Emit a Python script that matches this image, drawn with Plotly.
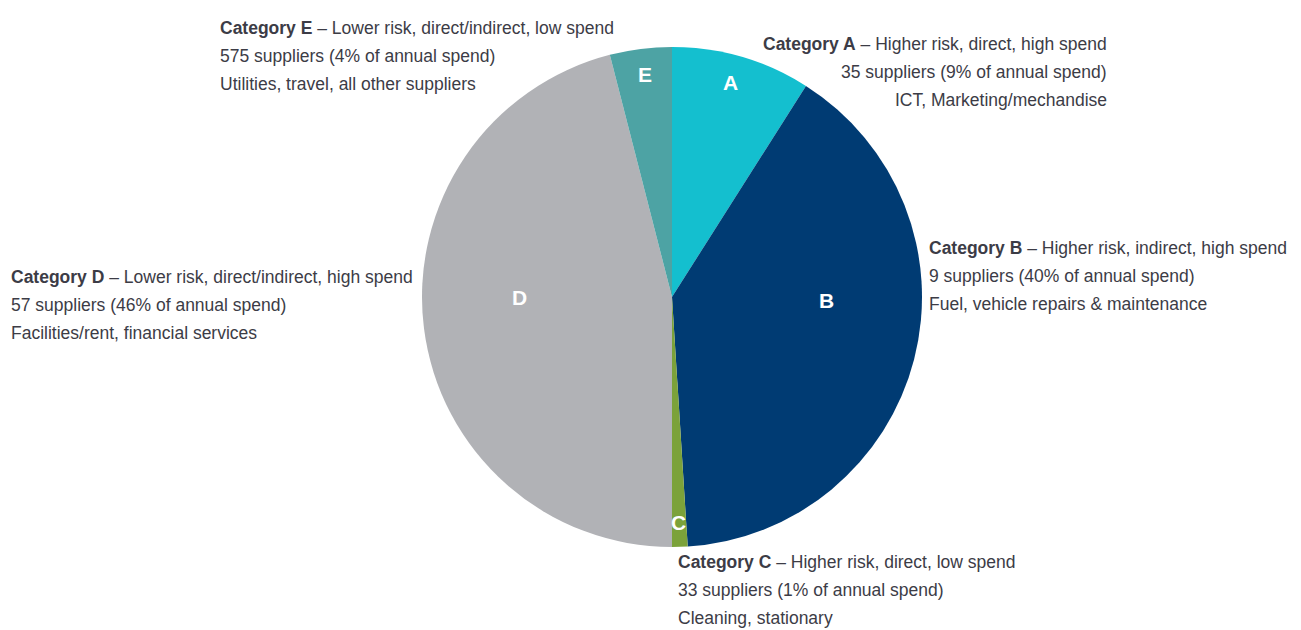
import plotly.graph_objects as go

categories = ["A", "B", "C", "D", "E"]
spend_share = [9, 40, 1, 46, 4]
suppliers = [35, 9, 33, 57, 575]
descriptions = [
    "Higher risk, direct, high spend",
    "Higher risk, indirect, high spend",
    "Higher risk, direct, low spend",
    "Lower risk, direct/indirect, high spend",
    "Lower risk, direct/indirect, low spend",
]
examples = [
    "ICT, Marketing/mechandise",
    "Fuel, vehicle repairs &amp; maintenance",
    "Cleaning, stationary",
    "Facilities/rent, financial services",
    "Utilities, travel, all other suppliers",
]
colors = ["#14BFCF", "#003B73", "#7BA23A", "#B1B2B6", "#4DA3A4"]

# page body has an 8px margin; figure is sized to fit the window
OFF = 8
W, H = 1301 - OFF, 630 - OFF
cx, cy, R = 672, 297, 250


def px(x):
    return (x - OFF) / W


def py(y):
    return 1 - (y - OFF) / H


fig = go.Figure(
    go.Pie(
        labels=categories,
        values=spend_share,
        sort=False,
        direction="clockwise",
        rotation=0,
        marker=dict(colors=colors, line=dict(width=0)),
        textinfo="none",
        hoverinfo="label+percent",
        showlegend=False,
        domain=dict(x=[px(cx - R), px(cx + R)], y=[py(cy + R), py(cy - R)]),
    )
)

font_family = "Liberation Sans Narrow, Arial Narrow, Liberation Sans, Arial, sans-serif"
annotations = []

# slice letters
letter_pos = {"A": (730, 82), "B": (826, 300), "C": (678, 522), "D": (519, 297), "E": (645, 74)}
for c in categories:
    x, y = letter_pos[c]
    annotations.append(dict(
        x=px(x), y=py(y), xref="paper", yref="paper", text="<b>%s</b>" % c,
        showarrow=False, xanchor="center", yanchor="middle",
        font=dict(family="Liberation Sans, Arial, sans-serif", size=21, color="white"),
    ))

# callout blocks: (x, first line y, anchor)
block_pos = {
    "A": (1108, 44, "right"),
    "B": (928, 248, "left"),
    "C": (677, 562, "left"),
    "D": (10, 277, "left"),
    "E": (219, 28, "left"),
}
line_gap = 28
for i, c in enumerate(categories):
    x, y0, anchor = block_pos[c]
    lines = [
        "<b>Category %s</b> – %s" % (c, descriptions[i]),
        "%d suppliers (%d%% of annual spend)" % (suppliers[i], spend_share[i]),
        examples[i],
    ]
    for k, t in enumerate(lines):
        annotations.append(dict(
            x=px(x), y=py(y0 + k * line_gap), xref="paper", yref="paper", text=t,
            showarrow=False, xanchor=anchor, yanchor="middle", align=anchor,
            xshift=-1 if anchor == "left" else 1,
            font=dict(family=font_family, size=17.5, color="#3C3C46"),
        ))

fig.update_layout(
    width=W, height=H,
    margin=dict(l=0, r=0, t=0, b=0),
    paper_bgcolor="white", plot_bgcolor="white",
    annotations=annotations,
)

fig.write_html("out.html")
